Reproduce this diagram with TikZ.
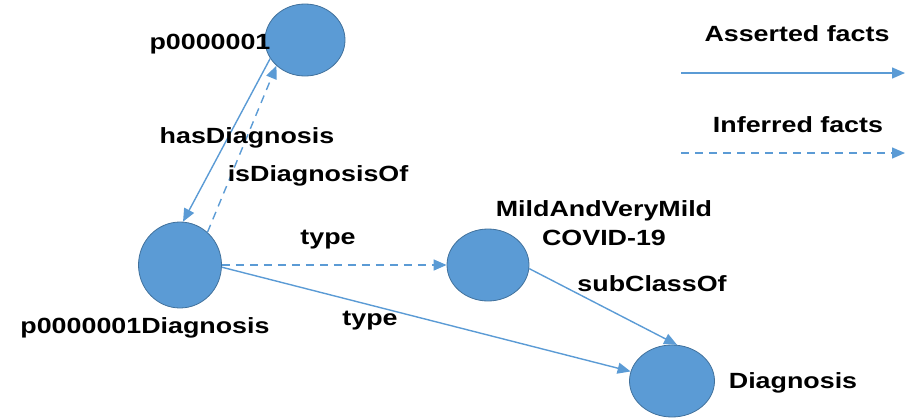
\documentclass[tikz,border=0pt]{standalone}
\usepackage{fontspec}
\setmainfont[FakeStretch=1.22]{Liberation Sans}
\usetikzlibrary{shapes.geometric,arrows.meta}
\definecolor{nodefill}{HTML}{5B9BD5}
\definecolor{nodeedge}{HTML}{41719C}
\definecolor{edgeblue}{HTML}{5B9BD5}
\begin{document}
\begin{tikzpicture}[x=1pt,y=-1pt,
  concept/.style={ellipse,draw=nodeedge,fill=nodefill,line width=0.8pt,inner sep=0pt},
  lbl/.style={font=\fontsize{22}{29}\selectfont\bfseries,text=black,inner sep=0pt},
  asserted/.style={draw=edgeblue,line width=1.4pt,-{Triangle[length=13pt,width=11pt]}},
  inferred/.style={asserted,dash pattern=on 8pt off 6pt}]
\useasboundingbox (0,0) rectangle (905,418);

% individuals and classes
\node[concept,minimum width=80pt,minimum height=72pt] (p1) at (305,40) {};
\node[concept,minimum width=83pt,minimum height=86pt] (pd) at (180,265) {};
\node[concept,minimum width=82pt,minimum height=72pt] (m) at (488,265) {};
\node[concept,minimum width=85pt,minimum height=72pt] (d) at (672,381) {};

% node names
\node[lbl] (tp1) at (210,44) {p0000001};
\node[lbl] (tpd) at (145,328) {p0000001Diagnosis};
\node[lbl,align=center] (tm) at (604,223) {MildAndVeryMild\\COVID-19};
\node[lbl] (td) at (793,383) {Diagnosis};

% relations
\draw[asserted] (p1.208) -- (pd.86);
\draw[inferred] (pd.50) -- (p1.222);
\draw[inferred] (pd.0) -- (m.180);
\draw[asserted] (pd.-3) -- (d.167);
\draw[asserted] (m.-5) -- (d.82);

% relation names
\node[lbl] (lhas) at (247,138) {hasDiagnosis};
\node[lbl] (lis) at (318,176) {isDiagnosisOf};
\node[lbl] (lt1) at (328,240) {type};
\node[lbl] (lt2) at (370,321) {type};
\node[lbl] (lsub) at (652,284) {subClassOf};

% legend
\node[lbl] (la) at (797,34) {Asserted facts};
\coordinate (a1) at (681,73);
\coordinate (a2) at (905,73);
\draw[asserted] (a1) -- (a2);
\node[lbl] (li) at (798,125) {Inferred facts};
\coordinate (i1) at (681,153);
\coordinate (i2) at (905,153);
\draw[inferred] (i1) -- (i2);
\end{tikzpicture}
\end{document}
